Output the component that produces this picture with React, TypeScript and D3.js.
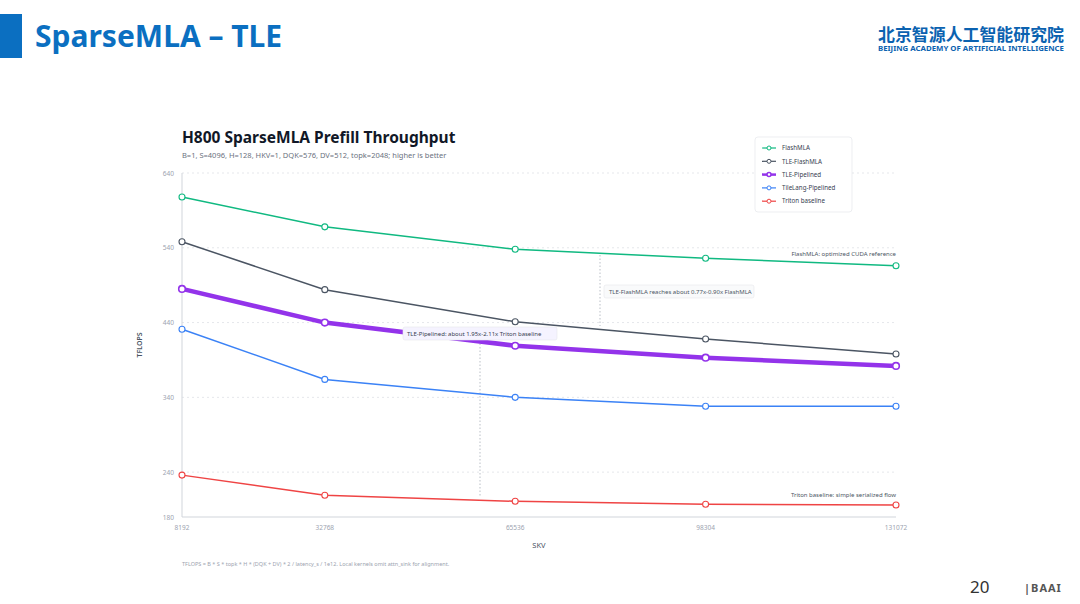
import * as d3 from 'd3';

const skv = [8192, 32768, 65536, 98304, 131072];
const yTicks = [180, 240, 340, 440, 540, 640];
const seriesNames = ['FlashMLA', 'TLE-FlashMLA', 'TLE-Pipelined', 'TileLang-Pipelined', 'Triton baseline'];
const flashMLA = [608, 568, 538, 526, 516];
const tleFlashMLA = [548, 484, 441, 418, 398];
const tlePipelined = [485, 440, 409, 393, 382];
const tileLang = [431, 364, 340, 328, 328];
const triton = [236, 209, 201, 197, 196];
const colors = ['#10b981', '#4b5563', '#9333ea', '#3b82f6', '#ef4444'];
const widths = [1.5, 1.5, 4.5, 1.5, 1.5];

export default function App() {
  const x = d3.scaleLinear().domain([8192, 131072]).range([182, 896]);
  const y = d3.scaleLinear().domain([180, 640]).range([517, 173]);
  const all = [flashMLA, tleFlashMLA, tlePipelined, tileLang, triton];
  const line = d3.line<number>().x((_, i) => x(skv[i])).y((d) => y(d));
  const font = 'Noto Sans, sans-serif';
  return (
    <svg width={1080} height={604} style={{ position: 'absolute', left: 0, top: 0, fontFamily: font }}>
      <rect width={1080} height={604} fill="#fff" />
      <rect x={0} y={14} width={22} height={44} fill="#0b6fc1" />
      <text x={35} y={47} fontSize={30} fontWeight={700} fill="#0b6fc1">SparseMLA – TLE</text>
      <text x={971} y={41} fontSize={17} fontWeight={700} fill="#0b62b0" textAnchor="middle" fontFamily="Noto Sans CJK SC" textLength={186} lengthAdjust="spacingAndGlyphs">北京智源人工智能研究院</text>
      <text x={971} y={51} fontSize={7} fontWeight={700} fill="#0b62b0" textAnchor="middle" textLength={186} lengthAdjust="spacingAndGlyphs">BEIJING ACADEMY OF ARTIFICIAL INTELLIGENCE</text>
      <text x={970} y={593} fontSize={17} fill="#333">20</text>
      <text x={1024} y={592} fontSize={11} fontWeight={700} fill="#555" letterSpacing={1}>|BAAI</text>

      <text x={182} y={143} fontSize={15.5} fontWeight={700} fill="#111827">H800 SparseMLA Prefill Throughput</text>
      <text x={182} y={158} fontSize={7.5} fill="#6b7280">B=1, S=4096, H=128, HKV=1, DQK=576, DV=512, topk=2048; higher is better</text>

      {yTicks.map((t) => (
        <g key={t}>
          {t !== 180 && <line x1={182} x2={896} y1={y(t)} y2={y(t)} stroke="#e5e7eb" strokeDasharray="2,3" />}
          <text x={174} y={y(t) + 2.5} fontSize={6.5} fill="#9ca3af" textAnchor="end">{t}</text>
        </g>
      ))}
      <line x1={182} x2={182} y1={173} y2={517} stroke="#d1d5db" />
      <line x1={182} x2={896} y1={517} y2={517} stroke="#d1d5db" />
      {skv.map((s) => (
        <text key={s} x={x(s)} y={530} fontSize={6.5} fill="#9ca3af" textAnchor="middle">{s}</text>
      ))}
      <text x={539} y={548} fontSize={7.5} fill="#4b5563" textAnchor="middle">SKV</text>
      <text transform="translate(142,345) rotate(-90)" fontSize={7} fill="#4b5563" textAnchor="middle" fontWeight={600}>TFLOPS</text>
      <text x={182} y={566} fontSize={5.5} fill="#9ca3af">TFLOPS = B * S * topk * H * (DQK + DV) * 2 / latency_s / 1e12. Local kernels omit attn_sink for alignment.</text>

      <line x1={600} x2={600} y1={255} y2={326} stroke="#9ca3af" strokeDasharray="1.5,2" strokeWidth={0.7} />
      <line x1={480} x2={480} y1={340} y2={496} stroke="#9ca3af" strokeDasharray="1.5,2" strokeWidth={0.7} />

      {all.map((vals, k) => (
        <g key={k}>
          <path d={line(vals) || ''} fill="none" stroke={colors[k]} strokeWidth={widths[k]} />
          {vals.map((v, i) => (
            <circle key={i} cx={x(skv[i])} cy={y(v)} r={k === 2 ? 3.3 : 3} fill="#fff" stroke={colors[k]} strokeWidth={k === 2 ? 1.6 : 1.1} />
          ))}
        </g>
      ))}

      <text x={896} y={256} fontSize={6} fill="#4b5563" textAnchor="end">FlashMLA: optimized CUDA reference</text>
      <text x={896} y={497} fontSize={6} fill="#4b5563" textAnchor="end">Triton baseline: simple serialized flow</text>
      <rect x={604} y={285} width={150} height={13} rx={2} fill="#f9fafb" stroke="#e5e7eb" strokeWidth={0.6} />
      <text x={609} y={294} fontSize={6} fill="#4b5563">TLE-FlashMLA reaches about 0.77x-0.90x FlashMLA</text>
      <rect x={403} y={327} width={154} height={13} rx={2} fill="#f5f3ff" stroke="#e5e7eb" strokeWidth={0.6} />
      <text x={407} y={336} fontSize={6} fill="#374151">TLE-Pipelined: about 1.95x-2.11x Triton baseline</text>

      <rect x={755} y={137} width={97} height={75} rx={3} fill="#fff" stroke="#e5e7eb" strokeWidth={0.7} />
      {seriesNames.map((n, k) => (
        <g key={n} transform={`translate(762,${148 + k * 13.3})`}>
          <line x1={0} x2={14} y1={0} y2={0} stroke={colors[k]} strokeWidth={k === 2 ? 2.5 : 1.2} />
          <circle cx={7} cy={0} r={2} fill="#fff" stroke={colors[k]} strokeWidth={k === 2 ? 1.5 : 1} />
          <text x={20} y={2.2} fontSize={6.2} fill="#374151">{n}</text>
        </g>
      ))}
    </svg>
  );
}
